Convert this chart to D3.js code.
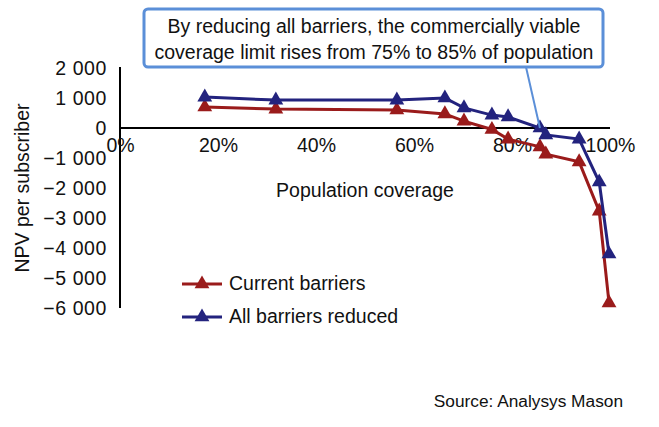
<!DOCTYPE html>
<html><head><meta charset="utf-8">
<script src="https://cdn.jsdelivr.net/npm/d3@7"></script>
<style>
body{margin:0;background:#fff;}
svg{display:block;font-family:"Liberation Sans",Arial,sans-serif;}
</style></head><body>
<svg id="c" width="659" height="427"></svg>
<script>
const coverage = [17.3, 31.8, 56.5, 66.3, 70.2, 75.9, 79.2, 85.7, 86.9, 93.7, 97.8, 99.8];
const currentBarriers = [700, 630, 600, 470, 230, -50, -370, -630, -870, -1130, -2770, -5830];
const allReduced = [1030, 930, 930, 1000, 670, 430, 370, 0, -230, -370, -1800, -4200];
const yTicks = [2000, 1000, 0, -1000, -2000, -3000, -4000, -5000, -6000];
const xTicks = [0, 20, 40, 60, 80, 100];
const seriesNames = ["Current barriers", "All barriers reduced"];
const colors = ["#9a1b1b", "#23237e"];
const annotation = ["By reducing all barriers, the commercially viable", "coverage limit rises from 75% to 85% of population"];
const source = "Source: Analysys Mason";

const FS = 19.5;
const svg = d3.select("#c");
const x = d3.scaleLinear().domain([0, 100]).range([120, 610]);
const y = d3.scaleLinear().domain([-6000, 2000]).range([308, 68]);

// y axis
const yAxis = svg.append("g").attr("transform", `translate(${x(0)},0)`)
  .call(d3.axisLeft(y).tickValues(yTicks).tickSize(0).tickPadding(13).tickFormat(d => d3.format(",")(d).replace(/,/g, "\u00a0")));
yAxis.select(".domain").attr("stroke", "#000").attr("stroke-width", 2).attr("d", `M0,${y(2000)-1}V${y(-6000)}`);
yAxis.selectAll("text").attr("font-size", FS).attr("fill", "#111").attr("font-family", "Liberation Sans, Arial, sans-serif").attr("letter-spacing", 0.6);

// x axis at y=0
const xAxis = svg.append("g").attr("transform", `translate(0,${y(0)})`)
  .call(d3.axisBottom(x).tickValues(xTicks).tickSize(0).tickPadding(10).tickFormat(d => d + "%"));
xAxis.select(".domain").attr("stroke", "#000").attr("stroke-width", 2).attr("d", `M${x(0)},0H${x(100)}`);
xAxis.selectAll("text").attr("font-size", FS).attr("fill", "#111").attr("font-family", "Liberation Sans, Arial, sans-serif");

// axis titles
svg.append("text").attr("transform", `translate(29,${y(-2000)}) rotate(-90)`).attr("text-anchor", "middle")
  .attr("font-size", FS).attr("fill", "#111").text("NPV per subscriber");
svg.append("text").attr("x", 365).attr("y", 197).attr("text-anchor", "middle")
  .attr("font-size", FS).attr("fill", "#111").text("Population coverage");

const tri = d3.symbol().type(d3.symbolTriangle).size(95);
const seriesData = [currentBarriers, allReduced];
seriesData.forEach((vals, i) => {
  const pts = coverage.map((c, j) => [c, vals[j]]);
  svg.append("path").datum(pts).attr("fill", "none").attr("stroke", colors[i]).attr("stroke-width", 3)
    .attr("d", d3.line().x(d => x(d[0])).y(d => y(d[1])));
  svg.selectAll(null).data(pts).enter().append("path").attr("d", tri)
    .attr("transform", d => `translate(${x(d[0])},${y(d[1])})`).attr("fill", colors[i]);
});

// callout line
svg.append("line").attr("x1", 526).attr("y1", 67).attr("x2", x(85.7)).attr("y2", y(0))
  .attr("stroke", "#5b8fd8").attr("stroke-width", 2);
// annotation box
svg.append("rect").attr("x", 144).attr("y", 9).attr("width", 459).attr("height", 58).attr("rx", 4)
  .attr("fill", "#fff").attr("stroke", "#5b8fd8").attr("stroke-width", 3);
annotation.forEach((t, i) => svg.append("text").attr("x", 374).attr("y", 33 + i * 26).attr("text-anchor", "middle")
  .attr("font-size", FS).attr("fill", "#111").text(t));

// legend
seriesNames.forEach((n, i) => {
  const ly = 284 + i * 33;
  svg.append("line").attr("x1", 182).attr("x2", 222).attr("y1", ly).attr("y2", ly).attr("stroke", colors[i]).attr("stroke-width", 3);
  svg.append("path").attr("d", tri).attr("transform", `translate(202,${ly})`).attr("fill", colors[i]);
  svg.append("text").attr("x", 229).attr("y", ly + 6).attr("font-size", FS).attr("fill", "#111").text(n);
});

svg.append("text").attr("x", 623).attr("y", 407).attr("text-anchor", "end").attr("font-size", 17.3).attr("fill", "#111").text(source);
</script>
</body></html>
